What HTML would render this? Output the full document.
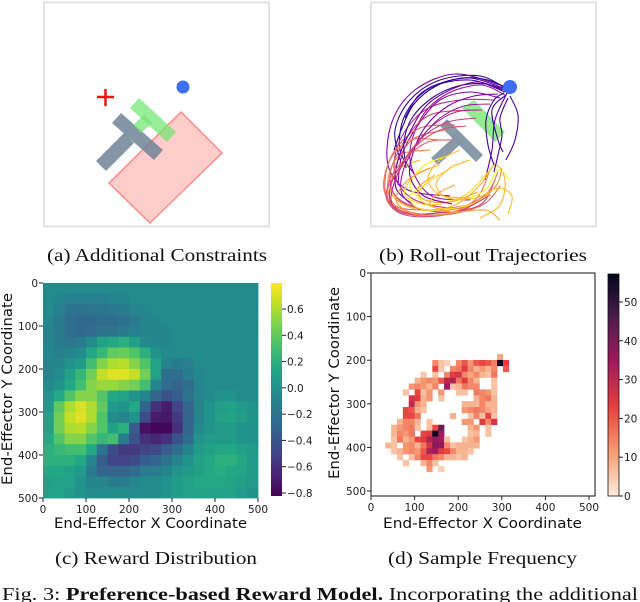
<!DOCTYPE html>
<html><head><meta charset="utf-8">
<style>
html,body{margin:0;padding:0;background:#fff;}
svg{display:block;}
.cap{font-family:"Liberation Serif",serif;font-size:18px;fill:#111;}
.tk{font-family:"DejaVu Sans","Liberation Sans",sans-serif;font-size:10.5px;fill:#222;}
.lab{font-family:"DejaVu Sans","Liberation Sans",sans-serif;font-size:14px;fill:#111;}
</style></head>
<body>
<svg id="fig" width="640" height="602" viewBox="0 0 640 602" xmlns="http://www.w3.org/2000/svg">
  <g>
    <rect x="44" y="2.5" width="225" height="224" fill="#fff" stroke="#e2e2e2" stroke-width="2"/>
    <polygon points="181,112 222,153 150,223 109,183" fill="rgba(255,120,120,0.38)" stroke="#ff8a8a" stroke-width="1.5"/>
    <g fill="rgba(110,130,150,0.85)">
      <polygon points="112,123 121,113 163,150 154,160"/>
      <polygon points="124,133 134,143 106,171 96,161"/>
    </g>
    <g fill="rgba(110,230,110,0.7)">
      <polygon points="130,108 139,98 176,132 167,142"/>
      <polygon points="144,115 152,123 141,133 133,125"/>
    </g>
    <g stroke="#ee1111" stroke-width="2.5">
      <line x1="97" y1="97" x2="114" y2="97"/><line x1="105.5" y1="89" x2="105.5" y2="106"/>
    </g>
    <circle cx="183" cy="87" r="6.5" fill="#3f6ef5"/>
    <text class="cap" x="47" y="261" textLength="220" lengthAdjust="spacingAndGlyphs">(a) Additional Constraints</text>
  </g>
  <g>
    <rect x="371" y="2.5" width="225" height="224" fill="#fff" stroke="#e2e2e2" stroke-width="2"/>
    <polygon points="462,108 474,100 505,132 495,142" fill="rgba(120,230,120,0.8)"/>
    <g fill="rgba(130,148,165,0.95)">
      <polygon points="440,126 447,119 483,155 476,162"/>
      <polygon points="456,135 463,142 438,165 431,158"/>
    </g>
    <g id="traj" fill="none" stroke-width="1.1"></g>
    <circle cx="510" cy="87" r="7" fill="#3f6ef5"/>
    <text class="cap" x="379" y="261" textLength="208" lengthAdjust="spacingAndGlyphs">(b) Roll-out Trajectories</text>
  </g>
  <g>
    <g id="heatC"></g>
    <g id="axC"></g>
    <defs>
      <linearGradient id="viridisG" x1="0" y1="1" x2="0" y2="0">
        <stop offset="0" stop-color="#440154"/><stop offset="0.1" stop-color="#482475"/><stop offset="0.2" stop-color="#414487"/><stop offset="0.3" stop-color="#355f8d"/><stop offset="0.4" stop-color="#2a788e"/><stop offset="0.5" stop-color="#21918c"/><stop offset="0.6" stop-color="#22a884"/><stop offset="0.7" stop-color="#44bf70"/><stop offset="0.8" stop-color="#7ad151"/><stop offset="0.9" stop-color="#bddf26"/><stop offset="1" stop-color="#fde725"/>
      </linearGradient>
      <linearGradient id="rocketG" x1="0" y1="1" x2="0" y2="0">
        <stop offset="0" stop-color="#faebdd"/><stop offset="0.2" stop-color="#f69c73"/><stop offset="0.4" stop-color="#e83f3f"/><stop offset="0.6" stop-color="#a11a5b"/><stop offset="0.8" stop-color="#4c1d4b"/><stop offset="1" stop-color="#03051a"/>
      </linearGradient>
    </defs>
    <rect x="271" y="283" width="11" height="213" fill="url(#viridisG)"/>
    <text class="lab" x="54" y="528" textLength="193" lengthAdjust="spacingAndGlyphs">End-Effector X Coordinate</text>
    <text class="lab" transform="translate(12,389) rotate(-90)" text-anchor="middle" textLength="192" lengthAdjust="spacingAndGlyphs">End-Effector Y Coordinate</text>
    <text class="cap" x="55" y="564" textLength="202" lengthAdjust="spacingAndGlyphs">(c) Reward Distribution</text>
  </g>
  <g>
    <g id="heatD"></g>
    <rect x="371" y="273" width="224" height="223" fill="none" stroke="#111" stroke-width="1"/>
    <g id="axD"></g>
    <rect x="608" y="274" width="11" height="222" fill="url(#rocketG)" stroke="#111" stroke-width="0.8"/>
    <text class="lab" x="383" y="528" textLength="199" lengthAdjust="spacingAndGlyphs">End-Effector X Coordinate</text>
    <text class="lab" transform="translate(339,383) rotate(-90)" text-anchor="middle" textLength="192" lengthAdjust="spacingAndGlyphs">End-Effector Y Coordinate</text>
    <text class="cap" x="388" y="564" textLength="189" lengthAdjust="spacingAndGlyphs">(d) Sample Frequency</text>
  </g>
  <text id="figcap" class="cap" x="2" y="600" textLength="636" lengthAdjust="spacingAndGlyphs" style="font-size:18px">Fig. 3: <tspan font-weight="bold">Preference-based Reward Model.</tspan> Incorporating the additional</text>
</svg>
<script>
const rewardTicks = [0, 100, 200, 300, 400, 500];
const rewardCbTicks = [0.6, 0.4, 0.2, 0.0, -0.2, -0.4, -0.6, -0.8];
const rewardRange = [-0.823, 0.798];
const reward = [
[-.05,-.05,-.05,-.05,-.05,-.05,-.05,-.05,-.05,-.05,-.05,-.05,-.05,-.05,-.05,-.05,-.05,-.05,-.05,-.05],
[-.05,-.08,-.12,-.12,-.12,-.12,-.1,-.1,-.05,-.05,-.05,-.05,-.05,-.05,-.05,-.05,-.05,-.05,-.05,-.05],
[-.05,-.12,-.2,-.22,-.2,-.2,-.18,-.15,-.1,-.08,-.05,-.05,-.05,-.05,-.05,-.05,-.05,-.05,-.05,-.05],
[-.08,-.15,-.25,-.28,-.28,-.25,-.25,-.22,-.15,-.1,-.08,-.05,-.05,-.05,-.05,-.05,-.05,-.05,-.05,-.05],
[-.1,-.15,-.25,-.28,-.25,-.2,-.2,-.15,-.12,-.1,-.1,-.08,-.05,-.05,-.05,-.05,-.05,-.05,-.05,-.05],
[-.1,-.15,-.18,-.15,-.05,.1,.15,.2,.1,-.05,-.08,-.08,-.05,-.05,-.05,-.05,-.05,-.05,-.05,-.05],
[-.08,-.12,-.1,-.05,.15,.25,.4,.42,.35,.2,0,-.05,-.05,-.05,-.05,-.05,-.05,-.05,-.05,-.05],
[-.1,-.08,0,.05,.3,.5,.6,.62,.5,.35,.1,-.1,-.15,-.12,-.05,-.05,-.05,-.05,-.05,-.05],
[-.1,-.05,.1,.25,.45,.65,.72,.72,.65,.45,.1,-.25,-.25,-.15,-.08,-.05,-.05,-.05,-.05,-.05],
[-.05,0,.15,.3,.5,.55,.55,.5,.45,.3,-.1,-.25,-.3,-.25,-.1,-.05,-.05,-.05,-.05,-.05],
[0,.15,.35,.5,.5,.35,.15,.1,0,-.1,-.3,-.4,-.35,-.2,-.1,-.05,0,0,-.05,-.05],
[.05,.4,.6,.7,.6,.4,.05,0,.15,-.3,-.6,-.7,-.5,-.3,-.1,0,.08,.1,.05,0],
[.1,.45,.65,.72,.6,.35,-.05,-.1,0,-.45,-.7,-.72,-.55,-.3,-.1,0,.1,.12,.08,0],
[.1,.45,.6,.62,.5,.35,.1,.2,-.35,-.75,-.8,-.8,-.6,-.3,-.05,0,.05,.05,0,0],
[.15,.35,.5,.5,.35,.25,.3,-.15,-.4,-.6,-.65,-.6,-.4,-.25,0,.05,.05,.05,0,0],
[.2,.25,.3,.3,.15,-.2,-.45,-.55,-.55,-.5,-.45,-.35,-.25,-.1,.05,.1,.15,.15,.1,.05],
[.2,.2,.2,.15,-.1,-.35,-.5,-.5,-.45,-.35,-.3,-.2,-.1,0,.1,.15,.2,.2,.15,.05],
[.15,.15,.1,.05,-.15,-.3,-.3,-.3,-.25,-.15,-.15,-.1,0,.05,.1,.15,.18,.15,.12,.05],
[.1,.12,.1,0,-.1,-.1,-.15,-.15,-.1,-.05,-.05,0,.05,.1,.15,.15,.15,.12,.1,.05],
[.1,.1,.05,0,-.05,-.05,-.05,-.05,-.05,-.05,-.05,0,.05,.1,.1,.1,.1,.1,.05,0]
];
const freqTicks = [0, 100, 200, 300, 400, 500];
const freqCbTicks = [0, 10, 20, 30, 40, 50];
const freqMax = 57.2;
const freqOrigin = [32.6, 186];
const freqBin = 13.5;
const freq = [
[0,0,0,0,0,0,0,0,0,0,0,0,0,0,0,0,0,0,0,10,0],
[0,0,0,0,0,0,0,0,14,6,4,0,14,20,12,20,22,20,15,56,24],
[0,0,0,0,0,0,0,0,22,5,0,14,16,24,14,8,12,8,14,0,20],
[0,0,0,0,0,0,5,0,6,0,14,24,26,14,10,14,8,6,16,0,0],
[0,0,0,0,0,8,12,14,12,20,30,32,16,24,14,8,0,0,6,0,0],
[0,0,0,0,12,14,12,8,14,0,34,6,8,16,14,14,0,0,6,0,0],
[0,0,0,6,0,22,6,12,0,12,0,0,6,6,0,16,14,12,6,0,0],
[0,0,0,0,26,24,8,12,0,6,0,0,0,0,0,8,14,16,8,0,0],
[0,0,0,0,30,12,8,0,0,0,0,0,0,8,8,8,14,8,8,0,0],
[0,0,0,22,20,8,6,0,0,0,0,0,0,12,14,16,14,10,8,0,0],
[0,0,0,22,22,16,0,0,0,0,0,8,0,0,6,14,6,22,6,0,0],
[0,0,8,14,14,8,0,6,0,0,0,0,0,12,12,0,24,14,26,0,0],
[0,8,12,14,16,6,0,6,22,42,0,0,0,0,8,12,0,6,0,0,0],
[0,8,14,12,16,0,22,24,57,35,0,0,0,0,6,8,0,6,0,0,0],
[0,6,16,8,12,22,24,32,36,34,6,0,0,6,8,12,0,0,0,0,0],
[8,6,0,12,14,8,16,26,38,36,14,6,8,8,8,8,0,0,0,0,0],
[0,6,8,12,14,12,20,32,34,24,22,14,8,8,6,0,0,0,0,0,0],
[0,0,6,0,6,14,22,22,16,14,8,8,6,8,0,0,0,0,0,0,0],
[0,0,0,6,0,0,8,14,6,0,0,0,0,0,0,0,0,0,0,0,0],
[0,0,0,0,0,0,0,12,0,4,0,0,0,0,0,0,0,0,0,0,0]
];
const trajectories = [
[[508,90],[480,76],[440,80],[410,100],[395,130],[400,160]],
[[505,92],[470,80],[430,88],[405,115],[400,150],[415,175]],
[[506,95],[492,110],[498,140],[503,152]],
[[507,93],[495,120],[492,150],[485,180]],
[[510,96],[518,115],[515,140],[506,160]],
[[500,85],[455,74],[415,90],[392,122],[388,165],[408,190],[450,196]],
[[503,88],[470,78],[438,84],[418,96],[405,118]],
[[505,95],[480,85],[445,95],[420,120],[410,160],[430,195],[470,200]],
[[495,100],[460,100],[425,110],[400,140],[395,175],[415,200],[460,208],[490,195]],
[[500,98],[470,92],[440,100],[418,125],[402,155],[398,185]],
[[470,110],[430,115],[405,140],[390,175],[400,200],[440,212],[480,205],[495,180]],
[[455,125],[420,128],[395,150],[385,180],[392,205],[430,210],[470,205]],
[[440,140],[410,140],[390,160],[384,190],[400,210],[440,215],[475,200],[490,170]],
[[430,150],[400,155],[388,180],[395,205],[430,215],[470,208]],
[[445,130],[415,138],[398,160],[392,190],[410,206],[450,210],[485,195],[498,172]],
[[420,160],[398,170],[392,195],[420,210],[455,205],[480,185],[495,165],[505,180],[500,205],[480,218]],
[[440,165],[415,175],[405,195],[430,205],[465,195],[490,170]],
[[450,155],[425,165],[410,185],[425,200],[460,200],[485,190],[498,170],[510,180]],
[[435,175],[418,188],[425,200],[450,202],[478,192]],
[[460,150],[440,160],[428,178],[440,195],[470,198]],
[[509,89],[488,80],[462,78],[436,86],[414,104],[402,128],[394,150]],
[[507,91],[486,84],[458,86],[432,98],[412,118],[404,142],[406,168]],
[[504,93],[494,100],[486,120],[488,145],[494,165]],
[[502,90],[478,82],[450,90],[426,106],[410,132],[398,160],[396,188],[412,204]],
[[508,98],[500,118],[502,135],[498,155],[494,172]],
[[498,94],[474,96],[448,106],[426,126],[414,150],[410,176],[424,196],[452,204]],
[[490,104],[464,106],[440,118],[420,140],[404,168],[402,194],[420,210]],
[[482,110],[456,112],[432,126],[412,150],[396,178],[392,204],[414,214],[446,212]],
[[476,118],[448,122],[424,136],[404,160],[390,188],[396,210],[430,216],[462,210],[488,196]],
[[466,126],[440,130],[416,146],[398,170],[386,196],[402,214],[438,216],[470,206]],
[[452,140],[428,142],[404,160],[388,184],[392,206],[418,214],[452,214],[484,204],[500,186]],
[[430,168],[408,180],[396,200],[414,214],[446,214],[476,202],[496,186],[502,168]],
[[448,170],[428,182],[418,196],[436,208],[466,206],[490,194]],
[[470,160],[450,168],[436,184],[448,198],[476,198],[498,188],[512,196],[508,214]],
[[425,185],[410,196],[418,208],[444,210],[472,204]],
[[455,185],[440,192],[430,204],[452,212],[485,210],[500,220]]
];
const trajColors = ["#2c0594","#3a049a","#3e049c","#5c01a6","#4903a0","#7e03a8","#5302a3","#9c179e","#b52f8c","#8a09a5","#cc4778","#de5f65","#ed7953","#f48849","#e56b5d","#fdb42f","#fbd524","#f0f921","#fca636","#feba2c","#1f0590","#300597","#3d049b","#6a00a8","#4a02a0","#7e03a8","#9a169f","#b12a90","#c33d80","#d35171","#e16462","#f89540","#fcce25","#febd2a","#f7e225","#fca338"];

const NS = "http://www.w3.org/2000/svg";
function mk(tag, attrs, parent){const e=document.createElementNS(NS,tag);for(const k in attrs)e.setAttribute(k,attrs[k]);parent.appendChild(e);return e;}
function hex(c){return [parseInt(c.slice(1,3),16),parseInt(c.slice(3,5),16),parseInt(c.slice(5,7),16)];}
function interp(stops,t){t=Math.max(0,Math.min(1,t));const n=stops.length-1;const i=Math.min(n-1,Math.floor(t*n));const f=t*n-i;const a=hex(stops[i]),b=hex(stops[i+1]);return "rgb("+a.map((v,j)=>Math.round(v+(b[j]-v)*f)).join(",")+")";}
const viridis=["#440154","#482475","#414487","#355f8d","#2a788e","#21918c","#22a884","#44bf70","#7ad151","#bddf26","#fde725"];
const rocketR=["#faebdd","#f69c73","#e83f3f","#a11a5b","#4c1d4b","#03051a"];

const cX0=43,cX1=258,cY0=283,cY1=498;
const cx=v=>cX0+(v/500)*(cX1-cX0), cy=v=>cY0+(v/500)*(cY1-cY0);
const cbCy=v=>496-(v-rewardRange[0])/(rewardRange[1]-rewardRange[0])*213;
const heatC=document.getElementById('heatC');
const cellUnits=500/reward[0].length;
reward.forEach((row,r)=>row.forEach((v,c)=>{
  const el=mk('rect',{x:cx(c*cellUnits),y:cy(r*cellUnits),width:cx(cellUnits)-cX0+0.4,height:cy(cellUnits)-cY0+0.4,fill:interp(viridis,(v-rewardRange[0])/(rewardRange[1]-rewardRange[0]))},heatC);
  
  
}));
const axC=document.getElementById('axC');
rewardTicks.forEach(t=>{
  const l1=mk('line',{x1:cX0-4,x2:cX0,y1:cy(t),y2:cy(t),stroke:'#222','stroke-width':1},axC);
  
  
  const t1=mk('text',{x:cX0-5,y:cy(t)+4,'text-anchor':'end',class:'tk'},axC);t1.textContent=t;
  
  
  const l2=mk('line',{x1:cx(t),x2:cx(t),y1:cY1,y2:cY1+4,stroke:'#222','stroke-width':1},axC);
  
  
  const t2=mk('text',{x:cx(t),y:cY1+15,'text-anchor':'middle',class:'tk'},axC);t2.textContent=t;
  
  
});
rewardCbTicks.forEach(t=>{
  const l=mk('line',{x1:282,x2:286,y1:cbCy(t),y2:cbCy(t),stroke:'#222','stroke-width':1},axC);
  
  
  const tx=mk('text',{x:287,y:cbCy(t)+4,class:'tk'},axC);tx.textContent=(t<0?'\u2212':'')+Math.abs(t).toFixed(1);
  
  
});

const dx=v=>371+v*0.436, dy=v=>273+v*0.436;
const cbDy=v=>496-(v/freqMax)*222;
const heatD=document.getElementById('heatD');
freq.forEach((row,r)=>row.forEach((v,c)=>{
  if(v<=0)return;
  const x=freqOrigin[0]+c*freqBin,y=freqOrigin[1]+r*freqBin;
  const el=mk('rect',{x:dx(x),y:dy(y),width:freqBin*0.436+0.3,height:freqBin*0.436+0.3,fill:interp(rocketR,v/freqMax)},heatD);
  
  
}));
const axD=document.getElementById('axD');
freqTicks.forEach(t=>{
  const l1=mk('line',{x1:367,x2:371,y1:dy(t),y2:dy(t),stroke:'#222','stroke-width':1},axD);
  
  
  const t1=mk('text',{x:366,y:dy(t)+4,'text-anchor':'end',class:'tk'},axD);t1.textContent=t;
  
  
  const l2=mk('line',{x1:dx(t),x2:dx(t),y1:496,y2:500,stroke:'#222','stroke-width':1},axD);
  
  
  const t2=mk('text',{x:dx(t),y:511,'text-anchor':'middle',class:'tk'},axD);t2.textContent=t;
  
  
});
freqCbTicks.forEach(t=>{
  const l=mk('line',{x1:619,x2:623,y1:cbDy(t),y2:cbDy(t),stroke:'#222','stroke-width':1},axD);
  
  
  const tx=mk('text',{x:624,y:cbDy(t)+4,class:'tk'},axD);tx.textContent=t;
  
  
});

const trajG=document.getElementById('traj');
trajectories.forEach((pts,i)=>{
  let d='M'+pts[0][0]+','+pts[0][1];
  for(let k=0;k<pts.length-1;k++){
    const p0=pts[Math.max(0,k-1)],p1=pts[k],p2=pts[k+1],p3=pts[Math.min(pts.length-1,k+2)];
    const c1=[p1[0]+(p2[0]-p0[0])/6,p1[1]+(p2[1]-p0[1])/6],c2=[p2[0]-(p3[0]-p1[0])/6,p2[1]-(p3[1]-p1[1])/6];
    d+=' C'+c1.join(',')+' '+c2.join(',')+' '+p2.join(',');
  }
  const el=mk('path',{d:d,stroke:trajColors[i%trajColors.length]},trajG);
  
  
});
</script>
</body></html>
